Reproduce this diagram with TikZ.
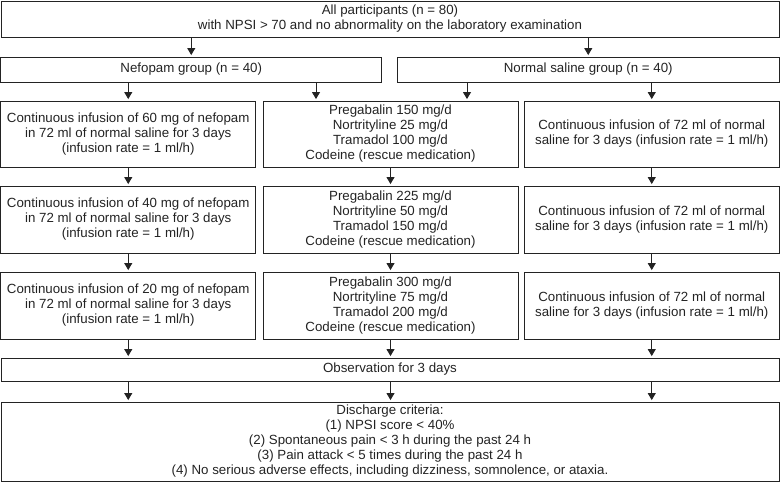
\documentclass[tikz,border=0pt]{standalone}
\usepackage{fontspec}
\setmainfont{Liberation Sans}
\usepackage{xcolor}
\usepackage{tikz}
\usetikzlibrary{arrows.meta}
\usetikzlibrary{calc}
\definecolor{ink}{RGB}{35,35,35}

\begin{document}
\begin{tikzpicture}[x=1pt,y=-1pt,
	box/.style={draw=ink,line width=0.9pt,rectangle,inner sep=0pt,align=center,text=ink,
		font=\fontsize{13.3}{15}\selectfont},
	arr/.style={draw=ink,line width=0.9pt,-{Triangle[length=7pt,width=8pt]},shorten >=1.5pt}]
	\useasboundingbox (0,0) rectangle (780,482);

	\node[box,minimum width=778pt,minimum height=36pt] (all) at (390,19) {All participants (n = 80)\\with NPSI > 70 and no abnormality on the laboratory examination};

	\node[box,minimum width=381pt,minimum height=25pt] (nef) at (191.25,69.5) {Nefopam group (n = 40)};
	\node[box,minimum width=382pt,minimum height=25pt] (sal) at (588.25,69.5) {Normal saline group (n = 40)};

	% nefopam doses
	\node[box,minimum width=255pt,minimum height=66pt] (n1) at (128.25,134) {Continuous infusion of 60 mg of nefopam\\in 72 ml of normal saline for 3 days\\(infusion rate = 1 ml/h)};
	\node[box,minimum width=255pt,minimum height=67pt] (n2) at (128.25,219.5) {Continuous infusion of 40 mg of nefopam\\in 72 ml of normal saline for 3 days\\(infusion rate = 1 ml/h)};
	\node[box,minimum width=255pt,minimum height=67pt] (n3) at (128.25,305.5) {Continuous infusion of 20 mg of nefopam\\in 72 ml of normal saline for 3 days\\(infusion rate = 1 ml/h)};

	% oral medication
	\node[box,minimum width=255pt,minimum height=66pt] (p1) at (390.5,134) {Pregabalin 150 mg/d\\Nortrityline 25 mg/d\\Tramadol 100 mg/d\\Codeine (rescue medication)};
	\node[box,minimum width=255pt,minimum height=67pt] (p2) at (390.5,219.5) {Pregabalin 225 mg/d\\Nortrityline 50 mg/d\\Tramadol 150 mg/d\\Codeine (rescue medication)};
	\node[box,minimum width=255pt,minimum height=67pt] (p3) at (390.5,305.5) {Pregabalin 300 mg/d\\Nortrityline 75 mg/d\\Tramadol 200 mg/d\\Codeine (rescue medication)};

	% saline
	\node[box,minimum width=255pt,minimum height=66pt] (s1) at (651.75,134) {Continuous infusion of 72 ml of normal\\saline for 3 days (infusion rate = 1 ml/h)};
	\node[box,minimum width=255pt,minimum height=67pt] (s2) at (651.75,219.5) {Continuous infusion of 72 ml of normal\\saline for 3 days (infusion rate = 1 ml/h)};
	\node[box,minimum width=255pt,minimum height=67pt] (s3) at (651.75,305.5) {Continuous infusion of 72 ml of normal\\saline for 3 days (infusion rate = 1 ml/h)};

	\node[box,minimum width=778pt,minimum height=23pt] (obs) at (390,369.5) {Observation for 3 days};
	\node[box,minimum width=778pt,minimum height=79pt] (dis) at (390,441.5) {Discharge criteria:\\(1) NPSI score < 40\%\\(2) Spontaneous pain < 3 h during the past 24 h\\(3) Pain attack < 5 times during the past 24 h\\(4) No serious adverse effects, including dizziness, somnolence, or ataxia.};

	\coordinate (pL) at (316,0);
	\coordinate (pR) at (467,0);

	\draw[arr] (all.south -| nef) -- (nef.north);
	\draw[arr] (all.south -| sal) -- (sal.north);
	\draw[arr] (nef.south -| n1) -- (n1.north);
	\draw[arr] (nef.south -| pL) -- (p1.north -| pL);
	\draw[arr] (sal.south -| pR) -- (p1.north -| pR);
	\draw[arr] (sal.south -| s1) -- (s1.north);

	\foreach \c in {n,p,s}{
		\draw[arr] (\c1) -- (\c2);
		\draw[arr] (\c2) -- (\c3);
		\draw[arr] (\c3.south) -- (obs.north -| \c3);
		\draw[arr] (obs.south -| \c3) -- (dis.north -| \c3);
	}
\end{tikzpicture}
\end{document}
